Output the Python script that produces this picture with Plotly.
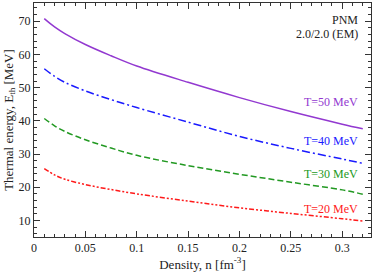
import plotly.graph_objects as go

density = [0.01, 0.02, 0.03, 0.05, 0.075, 0.1, 0.15, 0.2, 0.25, 0.3, 0.32]
e_t50 = [70.8, 68.3, 66.3, 63.0, 59.6, 56.5, 51.6, 47.0, 42.8, 39.0, 37.6]
e_t40 = [55.7, 53.4, 51.6, 49.0, 46.4, 44.0, 39.6, 35.3, 31.7, 28.5, 27.2]
e_t30 = [40.7, 38.5, 36.8, 34.3, 31.8, 29.6, 26.5, 23.9, 21.5, 19.2, 17.9]
e_t20 = [25.6, 23.7, 22.4, 20.8, 19.3, 18.0, 15.8, 13.8, 12.1, 10.5, 9.8]

series_labels = ["T=50 MeV", "T=40 MeV", "T=30 MeV", "T=20 MeV"]
label_y = [45.6, 34.0, 23.9, 13.5]
colors = ["#9238d0", "#1a1aff", "#229922", "#ff1a1a"]
dashes = ["solid", "8px,3px,2px,3px", "6px,3px", "5px,2px,2px,2px,2px,2px"]

x_tickvals = [0, 0.05, 0.1, 0.15, 0.2, 0.25, 0.3]
x_ticktext = ["0", "0.05", "0.1", "0.15", "0.2", "0.25", "0.3"]
y_tickvals = [10, 20, 30, 40, 50, 60, 70]

FONT = "Liberation Serif, Times New Roman, serif"

fig = go.Figure()
for ys, c, d in zip([e_t50, e_t40, e_t30, e_t20], colors, dashes):
    fig.add_trace(go.Scatter(x=density, y=ys, mode="lines",
                             line=dict(color=c, width=1.5, dash=d, shape="spline"), showlegend=False))

for lab, ly, c in zip(series_labels, label_y, colors):
    fig.add_annotation(x=0.317, y=ly, text=lab, showarrow=False, xanchor="right", yanchor="middle",
                       font=dict(family=FONT, size=12, color=c))

fig.add_annotation(x=0.317, y=70.4, text="PNM", showarrow=False, xanchor="right", yanchor="middle",
                   font=dict(family=FONT, size=12, color="#222"))
fig.add_annotation(x=0.317, y=66.2, text="2.0/2.0 (EM)", showarrow=False, xanchor="right", yanchor="middle",
                   font=dict(family=FONT, size=12, color="#222"))

axis_common = dict(showline=True, linecolor="#333", linewidth=1, mirror="allticks", ticks="inside",
                   ticklen=6, tickcolor="#333", tickwidth=1, showgrid=False, zeroline=False,
                   tickfont=dict(family=FONT, size=12, color="#222"))

fig.update_xaxes(range=[0, 0.328], tickvals=x_tickvals, ticktext=x_ticktext,
                 minor=dict(dtick=0.01, ticks="inside", ticklen=3, tickcolor="#333"),
                 title=dict(text="Density, n [fm<sup>-3</sup>]",
                            font=dict(family=FONT, size=13, color="#222"), standoff=3),
                 **axis_common)
fig.update_yaxes(range=[5, 75.5], tickvals=y_tickvals,
                 minor=dict(dtick=2, ticks="inside", ticklen=3, tickcolor="#333"),
                 title=dict(text="Thermal energy, E<sub>th</sub> [MeV]",
                            font=dict(family=FONT, size=13, color="#222"), standoff=2),
                 **axis_common)

fig.update_layout(width=374, height=272, margin=dict(l=34, r=3, t=3, b=35),
                  plot_bgcolor="white", paper_bgcolor="white", font=dict(family=FONT))

fig.write_html("out.html", config={"displayModeBar": False},
               post_script="document.body.style.margin='0';document.body.style.overflow='hidden';")
